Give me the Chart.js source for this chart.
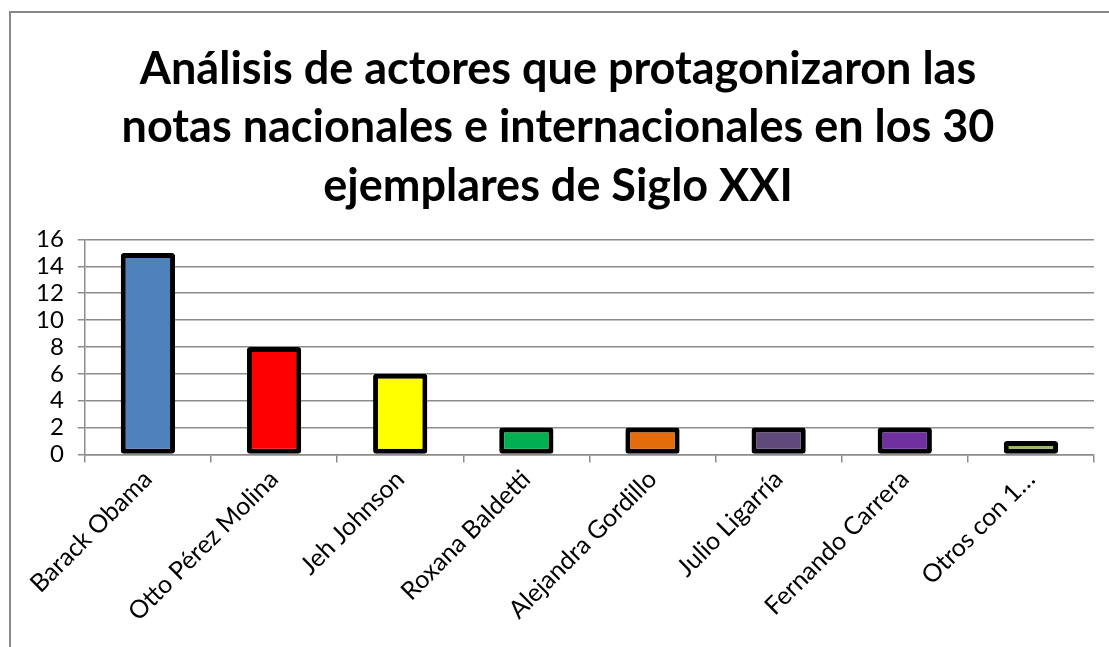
<!DOCTYPE html>
<html>
<head>
<meta charset="utf-8">
<script src="https://cdn.jsdelivr.net/npm/chart.js@4"></script>
<style>
	body{margin:0;background:#fff;}
	#frame{position:absolute;left:9px;top:11px;width:1120px;height:660px;border:2px solid #898989;box-sizing:border-box;}
	#wrap{position:absolute;left:0;top:0;width:1109px;height:647px;}
</style>
</head>
<body>
<div id="frame"></div>
<div id="wrap"><canvas id="ActoresChart"></canvas></div>
<script>
// datos
var ChartLabels = ['Barack Obama','Otto Pérez Molina','Jeh Johnson','Roxana Baldetti','Alejandra Gordillo','Julio Ligarría','Fernando Carrera','Otros con 1…'];
var ChartValues = [15,8,6,2,2,2,2,1];
var ChartColors = ['#4F81BD','#FF0000','#FFFF00','#00B050','#E46C0A','#604A7B','#7030A0','#9BBB59'];
var ChartTitle = ['Análisis de actores que protagonizaron las','notas nacionales e internacionales en los 30','ejemplares de Siglo XXI'];

var fontName = 'Lato, "Open Sans", sans-serif';

var ChartCreator = new Chart(document.getElementById('ActoresChart'), {
	type: 'bar',
	data: {
		labels: ChartLabels,
		datasets: [{
			data: ChartValues,
			backgroundColor: ChartColors,
			borderColor: '#000',
			borderWidth: 5,
			borderSkipped: false,
			borderRadius: 3,
			barPercentage: 0.43,
			categoryPercentage: 1
		}]
	},
	options: {
		responsive: true,
		maintainAspectRatio: false,
		animation: false,
		layout: {padding: {left: 22, right: 15, top: 40, bottom: 18}},
		plugins: {
			legend: {display: false},
			tooltip: {enabled: false},
			title: {
				display: true,
				text: ChartTitle,
				color: '#000',
				font: {family: fontName, size: 45, weight: 'bold', lineHeight: 1.3},
				padding: {top: 0, bottom: 24}
			}
		},
		scales: {
			y: {
				min: 0,
				max: 16,
				ticks: {stepSize: 2, autoSkip: false, color: '#000', font: {family: fontName, size: 24}, padding: 14},
				grid: {color: '#8c8c8c', lineWidth: 1.5, tickLength: 7},
				border: {color: '#8c8c8c', width: 1.5}
			},
			x: {
				offset: true,
				ticks: {color: '#000', font: {family: fontName, size: 25}, maxRotation: 45, minRotation: 45, padding: 2},
				grid: {offset: true, drawOnChartArea: false, color: '#8c8c8c', lineWidth: 1.5, tickLength: 8},
				border: {color: '#8c8c8c', width: 1.5}
			}
		}
	}
});
</script>
</body>
</html>
